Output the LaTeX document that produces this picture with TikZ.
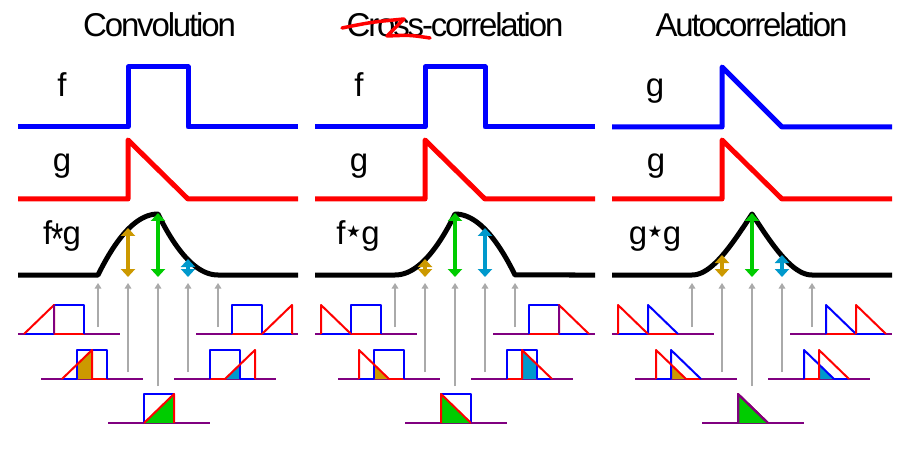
\documentclass[tikz,border=0pt]{standalone}
\usepackage{fontspec}
\setmainfont{Liberation Sans}
\newfontfamily\djv{DejaVu Sans}
\newfontfamily\ttlfont[LetterSpace=-6.5]{Liberation Sans}
\usetikzlibrary{arrows.meta}
\definecolor{pp}{RGB}{128,0,128}
\definecolor{gd}{RGB}{204,153,0}
\definecolor{gn}{RGB}{0,204,0}
\definecolor{cy}{RGB}{0,153,204}
\definecolor{gy}{RGB}{170,170,170}
\tikzset{
  bigl/.style={line width=5pt, line join=round},
  sm/.style={line width=2pt, line join=round},
  pl/.style={sm, draw=pp},
  bl/.style={sm, draw=blue},
  rl/.style={sm, draw=red},
  gyar/.style={draw=gy, line width=2pt, -{Triangle[width=6.5pt,length=5.5pt]}},
  dar/.style={line width=3.5pt, {Triangle[width=14pt,length=8pt]}-{Triangle[width=14pt,length=8pt]}},
  ttl/.style={font=\ttlfont\fontsize{33pt}{33pt}\selectfont, anchor=base, inner sep=0pt},
  lbl/.style={font=\fontsize{33pt}{33pt}\selectfont, anchor=base, inner sep=0pt},
}
% small diagram, convolution: blue box, red flipped triangle (vertical at s)
\newcommand\sdc[5]{\begin{scope}[shift={(#1,#2)}]
 \draw[pl] (-36,0)--(66,0);
 \draw[bl] ({#3-30},0)--(#3,0);
 \draw[rl] (0,0)--(30,0);
 #4
 \draw[bl] (0,0)--(0,-29)--(30,-29)--(30,0);
 \draw[rl] ({#3-30},0)--(#3,-29)--(#3,0);
 #5
\end{scope}}
% cross-correlation: blue box, red triangle (vertical at s-30)
\newcommand\sdx[5]{\begin{scope}[shift={(#1,#2)}]
 \draw[pl] (-36,0)--(66,0);
 \draw[bl] ({#3-30},0)--(#3,0);
 \draw[rl] (0,0)--(30,0);
 #4
 \draw[bl] (0,0)--(0,-29)--(30,-29)--(30,0);
 \draw[rl] ({#3-30},0)--({#3-30},-29)--(#3,0);
 #5
\end{scope}}
% autocorrelation: blue triangle, red triangle (vertical at s-30)
\newcommand\sda[5]{\begin{scope}[shift={(#1,#2)}]
 \draw[pl] (-36,0)--(66,0);
 \draw[bl] ({#3-30},0)--(#3,0);
 \draw[rl] (0,0)--(30,0);
 #4
 \draw[bl] (0,0)--(0,-29)--(30,0);
 \draw[rl] ({#3-30},0)--({#3-30},-29)--(#3,0);
 #5
\end{scope}}
% gray arrows of a panel
\newcommand\grayarrows[1]{%
 \foreach \xx/\yy [count=\i] in {98/327,128/372,158/386,188/372,218/327}{
   \coordinate (#1ga\i) at (\xx,\yy);
   \coordinate (#1gb\i) at (\xx,283);
   \draw[gyar] (#1ga\i) -- (#1gb\i);
 }}
\newcommand\smstar{\kern0.5pt\raisebox{7pt}{\scalebox{0.5}{\djv ★}}\kern0.5pt}
\newcommand\bigast{\kern-1pt\raisebox{-10pt}{\scalebox{0.95}[1.35]{*}}\kern-1pt}
\begin{document}
\begin{tikzpicture}[x=1pt,y=-1pt]
\useasboundingbox (0,0) rectangle (905,473);
\fill[white] (0,0) rectangle (905,473);

% ---------------- Panel 1: Convolution ----------------
\begin{scope}[shift={(0,0)}]
\node[ttl] (t1) at (159.5,37) {Convolution};
\node[lbl] (l1a) at (62,97) {f};
\node[lbl] (l1b) at (62,172) {g};
\node[lbl] (l1c) at (62,244) {f\bigast g};
\draw[bigl, blue] (18,127)--(128,127)--(128,67)--(188,67)--(188,127)--(298,127);
\draw[bigl, red] (18,199)--(128,199)--(128,140)--(188,199)--(298,199);
\draw[bigl] (18,275)--(98,275)
  --plot[domain=98:158,samples=40] (\x,{275-2.033*((\x-98)-(\x-98)^2/120)})
  --plot[domain=158:218,samples=40] (\x,{275-2.033*(218-\x)^2/120})
  --(298,275);
\grayarrows{p1}
\coordinate (p1a0) at (128,277); \coordinate (p1a1) at (128,228);
\coordinate (p1b0) at (158,277); \coordinate (p1b1) at (158,213);
\coordinate (p1c0) at (188,277); \coordinate (p1c1) at (188,259);
\draw[dar, gd] (p1a0)--(p1a1);
\draw[dar, gn] (p1b0)--(p1b1);
\draw[dar, cy] (p1c0)--(p1c1);
\sdc{54}{334}{0}{}{\draw[pl] (0,0)--(0,-29);}
\sdc{77}{379}{15}{\draw[pl] (0,0)--(15,0); \fill[gd] (0,0)--(0,-14.5)--(15,-29)--(15,0)--cycle;}{}
\sdc{144}{423}{30}{\draw[pl] (0,0)--(30,0); \fill[gn] (0,0)--(30,-29)--(30,0)--cycle;}{}
\sdc{210}{379}{45}{\draw[pl] (15,0)--(30,0); \fill[cy] (15,0)--(30,-14.5)--(30,0)--cycle;}{}
\sdc{232}{334}{60}{}{}
\end{scope}

% ---------------- Panel 2: Cross-correlation ----------------
\begin{scope}[shift={(297,0)}]
\node[ttl] (t2) at (158,37) {Cross-correlation};
\node[lbl] (l2a) at (62,97) {f};
\node[lbl] (l2b) at (62,172) {g};
\node[lbl] (l2c) at (61,244) {f\smstar g};
\draw[bigl, blue] (18,127)--(128,127)--(128,67)--(188,67)--(188,127)--(298,127);
\draw[bigl, red] (18,199)--(128,199)--(128,140)--(188,199)--(298,199);
\draw[bigl] (18,275)--(98,275)
  --plot[domain=98:158,samples=40] (\x,{275-2.033*(\x-98)^2/120})
  --plot[domain=158:218,samples=40] (\x,{275-2.033*((218-\x)-(218-\x)^2/120)})
  --(298,275);
\grayarrows{p2}
\coordinate (p2a0) at (128,277); \coordinate (p2a1) at (128,259);
\coordinate (p2b0) at (158,277); \coordinate (p2b1) at (158,213);
\coordinate (p2c0) at (188,277); \coordinate (p2c1) at (188,228);
\draw[dar, gd] (p2a0)--(p2a1);
\draw[dar, gn] (p2b0)--(p2b1);
\draw[dar, cy] (p2c0)--(p2c1);
\sdx{54}{334}{0}{}{}
\sdx{77}{379}{15}{\draw[pl] (0,0)--(15,0); \fill[gd] (0,0)--(0,-14.5)--(15,0)--cycle;}{}
\sdx{144}{423}{30}{\draw[pl] (0,0)--(30,0); \fill[gn] (0,0)--(0,-29)--(30,0)--cycle;}{}
\sdx{210}{379}{45}{\draw[pl] (15,0)--(30,0); \fill[cy] (15,0)--(15,-29)--(30,-14.5)--(30,0)--cycle;}{}
\sdx{232}{334}{60}{}{\draw[pl] (30,0)--(30,-29);}
\end{scope}
% strike-through scribble on "Cross"
\coordinate (s1) at (342,28); \coordinate (s2) at (404,19);
\coordinate (s3) at (387,36); \coordinate (s4) at (430,38);
\draw[red, line width=3.5pt, line cap=round, line join=round]
  (s1) .. controls (372,22) .. (s2) -- (s3) .. controls (410,35) .. (s4);

% ---------------- Panel 3: Autocorrelation ----------------
\begin{scope}[shift={(594,0)}]
\node[ttl] (t3) at (157.5,37) {Autocorrelation};
\node[lbl] (l3a) at (61,97) {g};
\node[lbl] (l3b) at (62,172) {g};
\node[lbl] (l3c) at (61,244) {g\smstar g};
\draw[bigl, blue] (18,127)--(128,127)--(128,67)--(188,127)--(298,127);
\draw[bigl, red] (18,199)--(128,199)--(128,140)--(188,199)--(298,199);
\draw[bigl] (18,275)--(98,275)
  --plot[domain=98:158,samples=50] (\x,{275-30.5*(1-(158-\x)/60)^2*(2+(158-\x)/60)})
  --plot[domain=158:218,samples=50] (\x,{275-30.5*(1-(\x-158)/60)^2*(2+(\x-158)/60)})
  --(298,275);
\grayarrows{p3}
\coordinate (p3a0) at (128,277); \coordinate (p3a1) at (128,255);
\coordinate (p3b0) at (158,277); \coordinate (p3b1) at (158,213);
\coordinate (p3c0) at (188,277); \coordinate (p3c1) at (188,255);
\draw[dar, gd] (p3a0)--(p3a1);
\draw[dar, gn] (p3b0)--(p3b1);
\draw[dar, cy] (p3c0)--(p3c1);
\sda{54}{334}{0}{}{}
\sda{77}{379}{15}{\draw[pl] (0,0)--(15,0); \fill[gd] (0,0)--(0,-14.5)--(15,0)--cycle;}{}
\sda{144}{423}{30}{\draw[pl] (0,0)--(30,0); \fill[gn] (0,0)--(0,-29)--(30,0)--cycle;}{\draw[pl] (0,0)--(0,-29)--(30,0);}
\sda{210}{379}{45}{\draw[pl] (15,0)--(30,0); \fill[cy] (15,0)--(15,-14.5)--(30,0)--cycle;}{}
\sda{232}{334}{60}{}{}
\end{scope}
\end{tikzpicture}
\end{document}
